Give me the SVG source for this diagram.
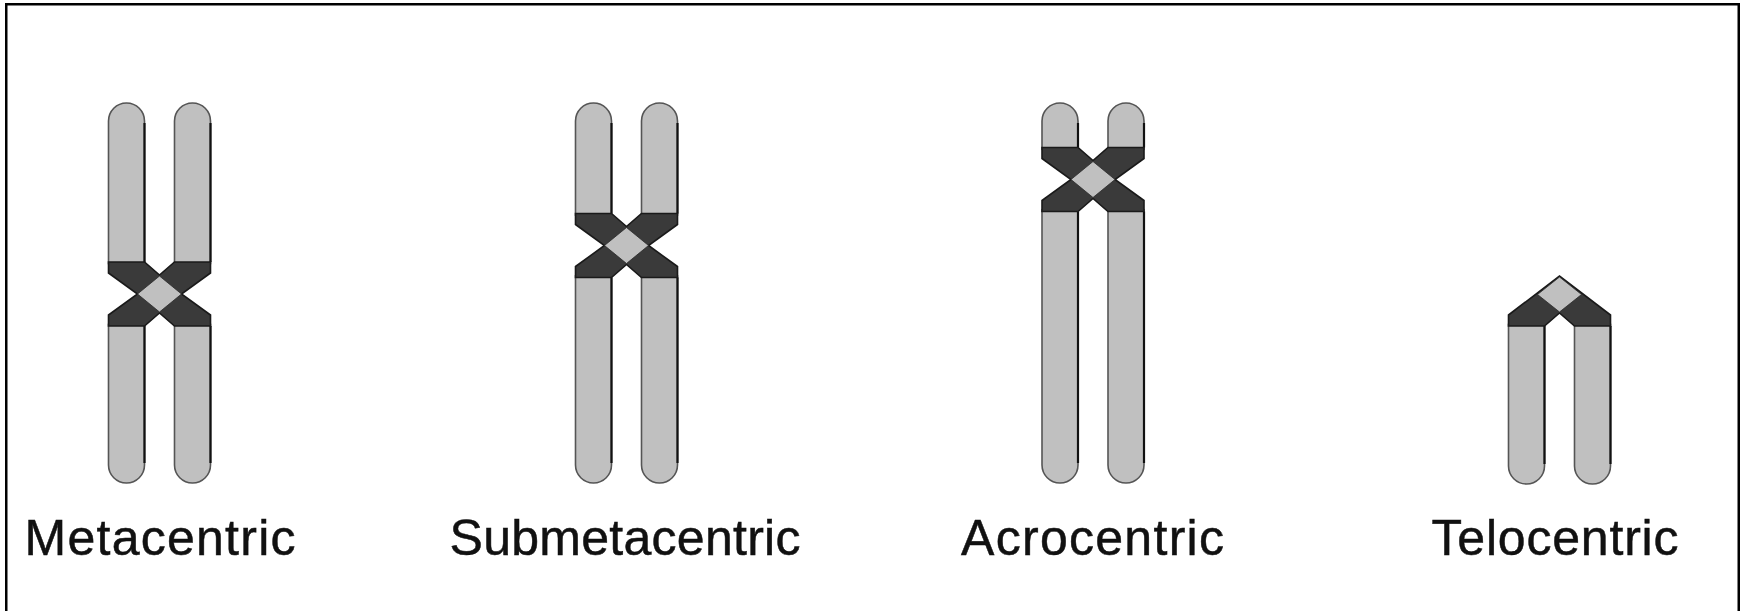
<svg xmlns="http://www.w3.org/2000/svg" width="1740" height="611" viewBox="0 0 1740 611">
  <style>
    .arm { fill: #c0c0c0; stroke: #555; stroke-width: 1.6; stroke-linejoin: round; }
    .edge { fill: none; stroke: #111; stroke-width: 2.2; }
    .band { fill: #3a3a3a; stroke: #1a1a1a; stroke-width: 1.6; stroke-linejoin: miter; }
    .cen { fill: #c0c0c0; stroke: #2a2a2a; stroke-width: 0.8; }
    .label { font-family: "Liberation Sans", Arial, sans-serif; font-size: 50px; fill: #111; stroke: #111; stroke-width: 0.5; }
  </style>

  <!-- frame -->
  <rect x="6.25" y="4.25" width="1732.5" height="700" fill="#fff" stroke="#000" stroke-width="2.5"/>

  <!-- Metacentric: centre (159.5, 294) -->
  <g id="metacentric">
    <path class="arm" d="M108.5,264 V121 A18,18 0 0 1 144.5,121 V264 Z"/>
    <path class="arm" d="M174.5,264 V121 A18,18 0 0 1 210.5,121 V264 Z"/>
    <path class="arm" d="M108.5,324 V465 A18,18 0 0 0 144.5,465 V324 Z"/>
    <path class="arm" d="M174.5,324 V465 A18,18 0 0 0 210.5,465 V324 Z"/>
    <path class="edge" d="M144.5,123 V262 M210.5,123 V262 M144.5,326 V463 M210.5,326 V463"/>
    <polygon class="band" points="108.5,262 144.5,262 159.5,275 174.5,262 210.5,262 210.5,273 181.5,294 210.5,315 210.5,326 174.5,326 159.5,313 144.5,326 108.5,326 108.5,315 137.5,294 108.5,273"/>
    <polygon class="cen" points="159.5,276 181.5,294 159.5,312 137.5,294"/>
    <text class="label" x="24.5" y="555" textLength="271" lengthAdjust="spacing">Metacentric</text>
  </g>

  <!-- Submetacentric: centre (626.5, 245.5) -->
  <g id="submetacentric">
    <path class="arm" d="M575.5,215.5 V121 A18,18 0 0 1 611.5,121 V215.5 Z"/>
    <path class="arm" d="M641.5,215.5 V121 A18,18 0 0 1 677.5,121 V215.5 Z"/>
    <path class="arm" d="M575.5,275.5 V465 A18,18 0 0 0 611.5,465 V275.5 Z"/>
    <path class="arm" d="M641.5,275.5 V465 A18,18 0 0 0 677.5,465 V275.5 Z"/>
    <path class="edge" d="M611.5,123 V213.5 M677.5,123 V213.5 M611.5,277.5 V463 M677.5,277.5 V463"/>
    <polygon class="band" points="575.5,213.5 611.5,213.5 626.5,226.5 641.5,213.5 677.5,213.5 677.5,224.5 648.5,245.5 677.5,266.5 677.5,277.5 641.5,277.5 626.5,264.5 611.5,277.5 575.5,277.5 575.5,266.5 604.5,245.5 575.5,224.5"/>
    <polygon class="cen" points="626.5,227.5 648.5,245.5 626.5,263.5 604.5,245.5"/>
    <text class="label" x="449.5" y="555" textLength="351" lengthAdjust="spacing">Submetacentric</text>
  </g>

  <!-- Acrocentric: centre (1093, 179.5) -->
  <g id="acrocentric">
    <path class="arm" d="M1042,149.5 V121 A18,18 0 0 1 1078,121 V149.5 Z"/>
    <path class="arm" d="M1108,149.5 V121 A18,18 0 0 1 1144,121 V149.5 Z"/>
    <path class="arm" d="M1042,209.5 V465 A18,18 0 0 0 1078,465 V209.5 Z"/>
    <path class="arm" d="M1108,209.5 V465 A18,18 0 0 0 1144,465 V209.5 Z"/>
    <path class="edge" d="M1078,123 V147.5 M1144,123 V147.5 M1078,211.5 V463 M1144,211.5 V463"/>
    <polygon class="band" points="1042,147.5 1078,147.5 1093,160.5 1108,147.5 1144,147.5 1144,158.5 1115,179.5 1144,200.5 1144,211.5 1108,211.5 1093,198.5 1078,211.5 1042,211.5 1042,200.5 1071,179.5 1042,158.5"/>
    <polygon class="cen" points="1093,161.5 1115,179.5 1093,197.5 1071,179.5"/>
    <text class="label" x="961" y="555" textLength="263" lengthAdjust="spacing">Acrocentric</text>
  </g>

  <!-- Telocentric: centromere at the tip, apex (1559.5, 276) -->
  <g id="telocentric">
    <path class="arm" d="M1508.5,324 V466 A18,18 0 0 0 1544.5,466 V324 Z"/>
    <path class="arm" d="M1574.5,324 V466 A18,18 0 0 0 1610.5,466 V324 Z"/>
    <path class="edge" d="M1544.5,326 V464 M1610.5,326 V464"/>
    <polygon class="band" points="1508.5,326 1508.5,315 1559.5,276 1610.5,315 1610.5,326 1574.5,326 1559.5,313 1544.5,326"/>
    <polygon class="cen" points="1559.5,277 1581.5,294.5 1559.5,312 1537.5,294.5"/>
    <text class="label" x="1431.5" y="555" textLength="247" lengthAdjust="spacing">Telocentric</text>
  </g>
</svg>
